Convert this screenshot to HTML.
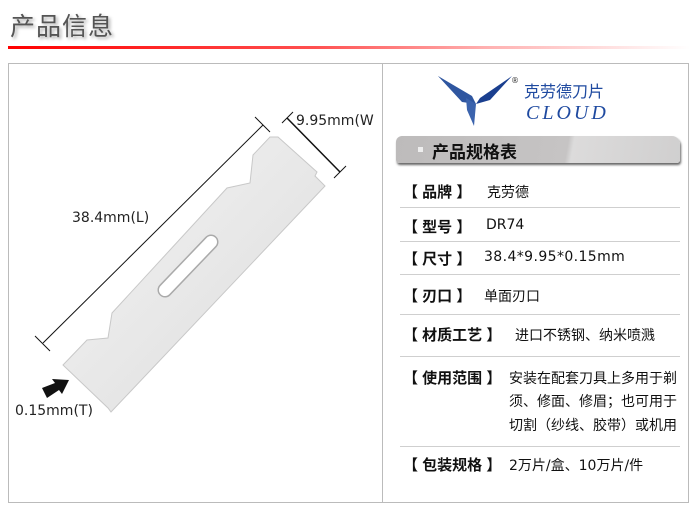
<!DOCTYPE html>
<html><head><meta charset="utf-8"><style>
body{margin:0;width:700px;height:517px;background:#fff;position:relative;overflow:hidden;font-family:"DejaVu Sans","Noto Sans CJK SC",sans-serif;}
.a{position:absolute;white-space:nowrap}
.t{font-size:14px;color:#111}
.k{position:absolute;white-space:nowrap;font-weight:bold;font-size:15px;color:#111;left:403px;font-family:"Liberation Sans","Noto Sans CJK SC",sans-serif}
.sep{position:absolute;left:400px;width:280px;height:1px;background:#cfcfcf}
</style></head><body>
<div class="a" style="left:10px;top:7px;font-size:25px;color:#555;text-shadow:2px 2px 3px #aaa;letter-spacing:1px;font-family:'Liberation Sans','Noto Sans CJK SC',sans-serif">产品信息</div>
<div class="a" style="left:8px;top:46px;width:682px;height:3px;background:linear-gradient(90deg,#f00,#ff5050 45%,#ffb0b0 70%,#fff)"></div>
<div class="a" style="left:8px;top:63px;width:679px;height:438px;border:1px solid #bbb"></div>
<div class="a" style="left:382px;top:63px;width:1px;height:439px;background:#bbb"></div>

<svg class="a" style="left:0;top:0" width="383" height="517">
<defs><linearGradient id="g" x1="0" y1="0" x2="1" y2="1"><stop offset="0" stop-color="#f4f4f4"/><stop offset="1" stop-color="#dcdcdc"/></linearGradient></defs>
<polygon points="270,137 278,137 317,172 315,176 325,186 111,412 108,408 63,365 87,340 108,338 112,313 227,188 250,183 253,155" fill="url(#g)" stroke="#c8c8c8" stroke-width="1"/>
<line x1="165" y1="290" x2="211" y2="242" stroke="#aaa" stroke-width="15" stroke-linecap="round"/>
<line x1="165" y1="290" x2="211" y2="242" stroke="#fff" stroke-width="12" stroke-linecap="round"/>
<line x1="43" y1="343" x2="263" y2="125" stroke="#111" stroke-width="1"/>
<line x1="35" y1="336" x2="50" y2="351" stroke="#111"/>
<line x1="255" y1="117" x2="270" y2="132" stroke="#111"/>
<line x1="287" y1="118" x2="340" y2="172" stroke="#111" stroke-width="1.5"/>
<line x1="282" y1="123" x2="293" y2="112" stroke="#111"/>
<line x1="334" y1="178" x2="346" y2="166" stroke="#111"/>
<polygon points="42,388 55,383 52,379 69,380 62,394 59,390 47,398" fill="#111"/>
</svg>
<div class="a" style="left:296px;top:113px;font-size:14px;color:#222">9.95mm(W</div>
<div class="a" style="left:72px;top:210px;font-size:14px;color:#222">38.4mm(L)</div>
<div class="a" style="left:15px;top:403px;font-size:14px;color:#222">0.15mm(T)</div>

<svg class="a" style="left:436px;top:74px" width="84" height="54">
<polygon points="2,2 32,22 26,26" fill="#5c7fb8"/>
<polygon points="2,2 36,22 40,30 26,28" fill="#2f56a0"/>
<polygon points="76,2 44,24 40,30 54,26" fill="#1a3f8f"/>
<polygon points="30,24 40,30 38,52 31,36" fill="#3b63ad"/>
<text x="75" y="9" font-size="8" fill="#333">®</text>
</svg>
<div class="a" style="left:524px;top:78px;font-size:16px;color:#1f4aa0;font-family:'Liberation Sans','Noto Sans CJK SC',sans-serif">克劳德刀片</div>
<div class="a" style="left:526px;top:102px;font-size:20px;color:#1f4aa0;font-style:italic;font-family:'Liberation Serif',serif;letter-spacing:3px">CLOUD</div>

<div class="a" style="left:396px;top:136px;width:284px;height:27px;border-radius:6px 8px 3px 3px;background:linear-gradient(100deg,#bdbbbb 0%,#c6c4c4 60%,#dcdbdb 62%,#d0cfcf 100%);box-shadow:1px 2px 2px #666"></div>
<div class="a" style="left:418px;top:147px;width:5px;height:5px;background:#eee"></div>
<div class="a" style="left:432px;top:138px;font-size:17px;font-weight:bold;color:#111;font-family:'Liberation Sans','Noto Sans CJK SC',sans-serif">产品规格表</div>

<div class="k" style="top:181px">【 品牌 】</div><div class="a t" style="left:487px;top:182px">克劳德</div>
<div class="sep" style="top:207px"></div>
<div class="k" style="top:216px">【 型号 】</div><div class="a t" style="left:486px;top:217px">DR74</div>
<div class="sep" style="top:241px"></div>
<div class="k" style="top:248px">【 尺寸 】</div><div class="a t" style="left:484px;top:249px;letter-spacing:0.4px">38.4*9.95*0.15mm</div>
<div class="sep" style="top:274px"></div>
<div class="k" style="top:285px">【 刃口 】</div><div class="a t" style="left:484px;top:286px">单面刃口</div>
<div class="sep" style="top:314px"></div>
<div class="k" style="top:324px">【 材质工艺 】</div><div class="a t" style="left:515px;top:325px">进口不锈钢、纳米喷溅</div>
<div class="sep" style="top:356px"></div>
<div class="k" style="top:367px">【 使用范围 】</div><div class="a t" style="left:509px;top:368px">安装在配套刀具上多用于剃</div>
<div class="a t" style="left:509px;top:391px">须、修面、修眉；也可用于</div>
<div class="a t" style="left:509px;top:415px">切割（纱线、胶带）或机用</div>
<div class="sep" style="top:446px"></div>
<div class="k" style="top:454px">【 包装规格 】</div><div class="a t" style="left:509px;top:455px">2万片/盒、10万片/件</div>
</body></html>
